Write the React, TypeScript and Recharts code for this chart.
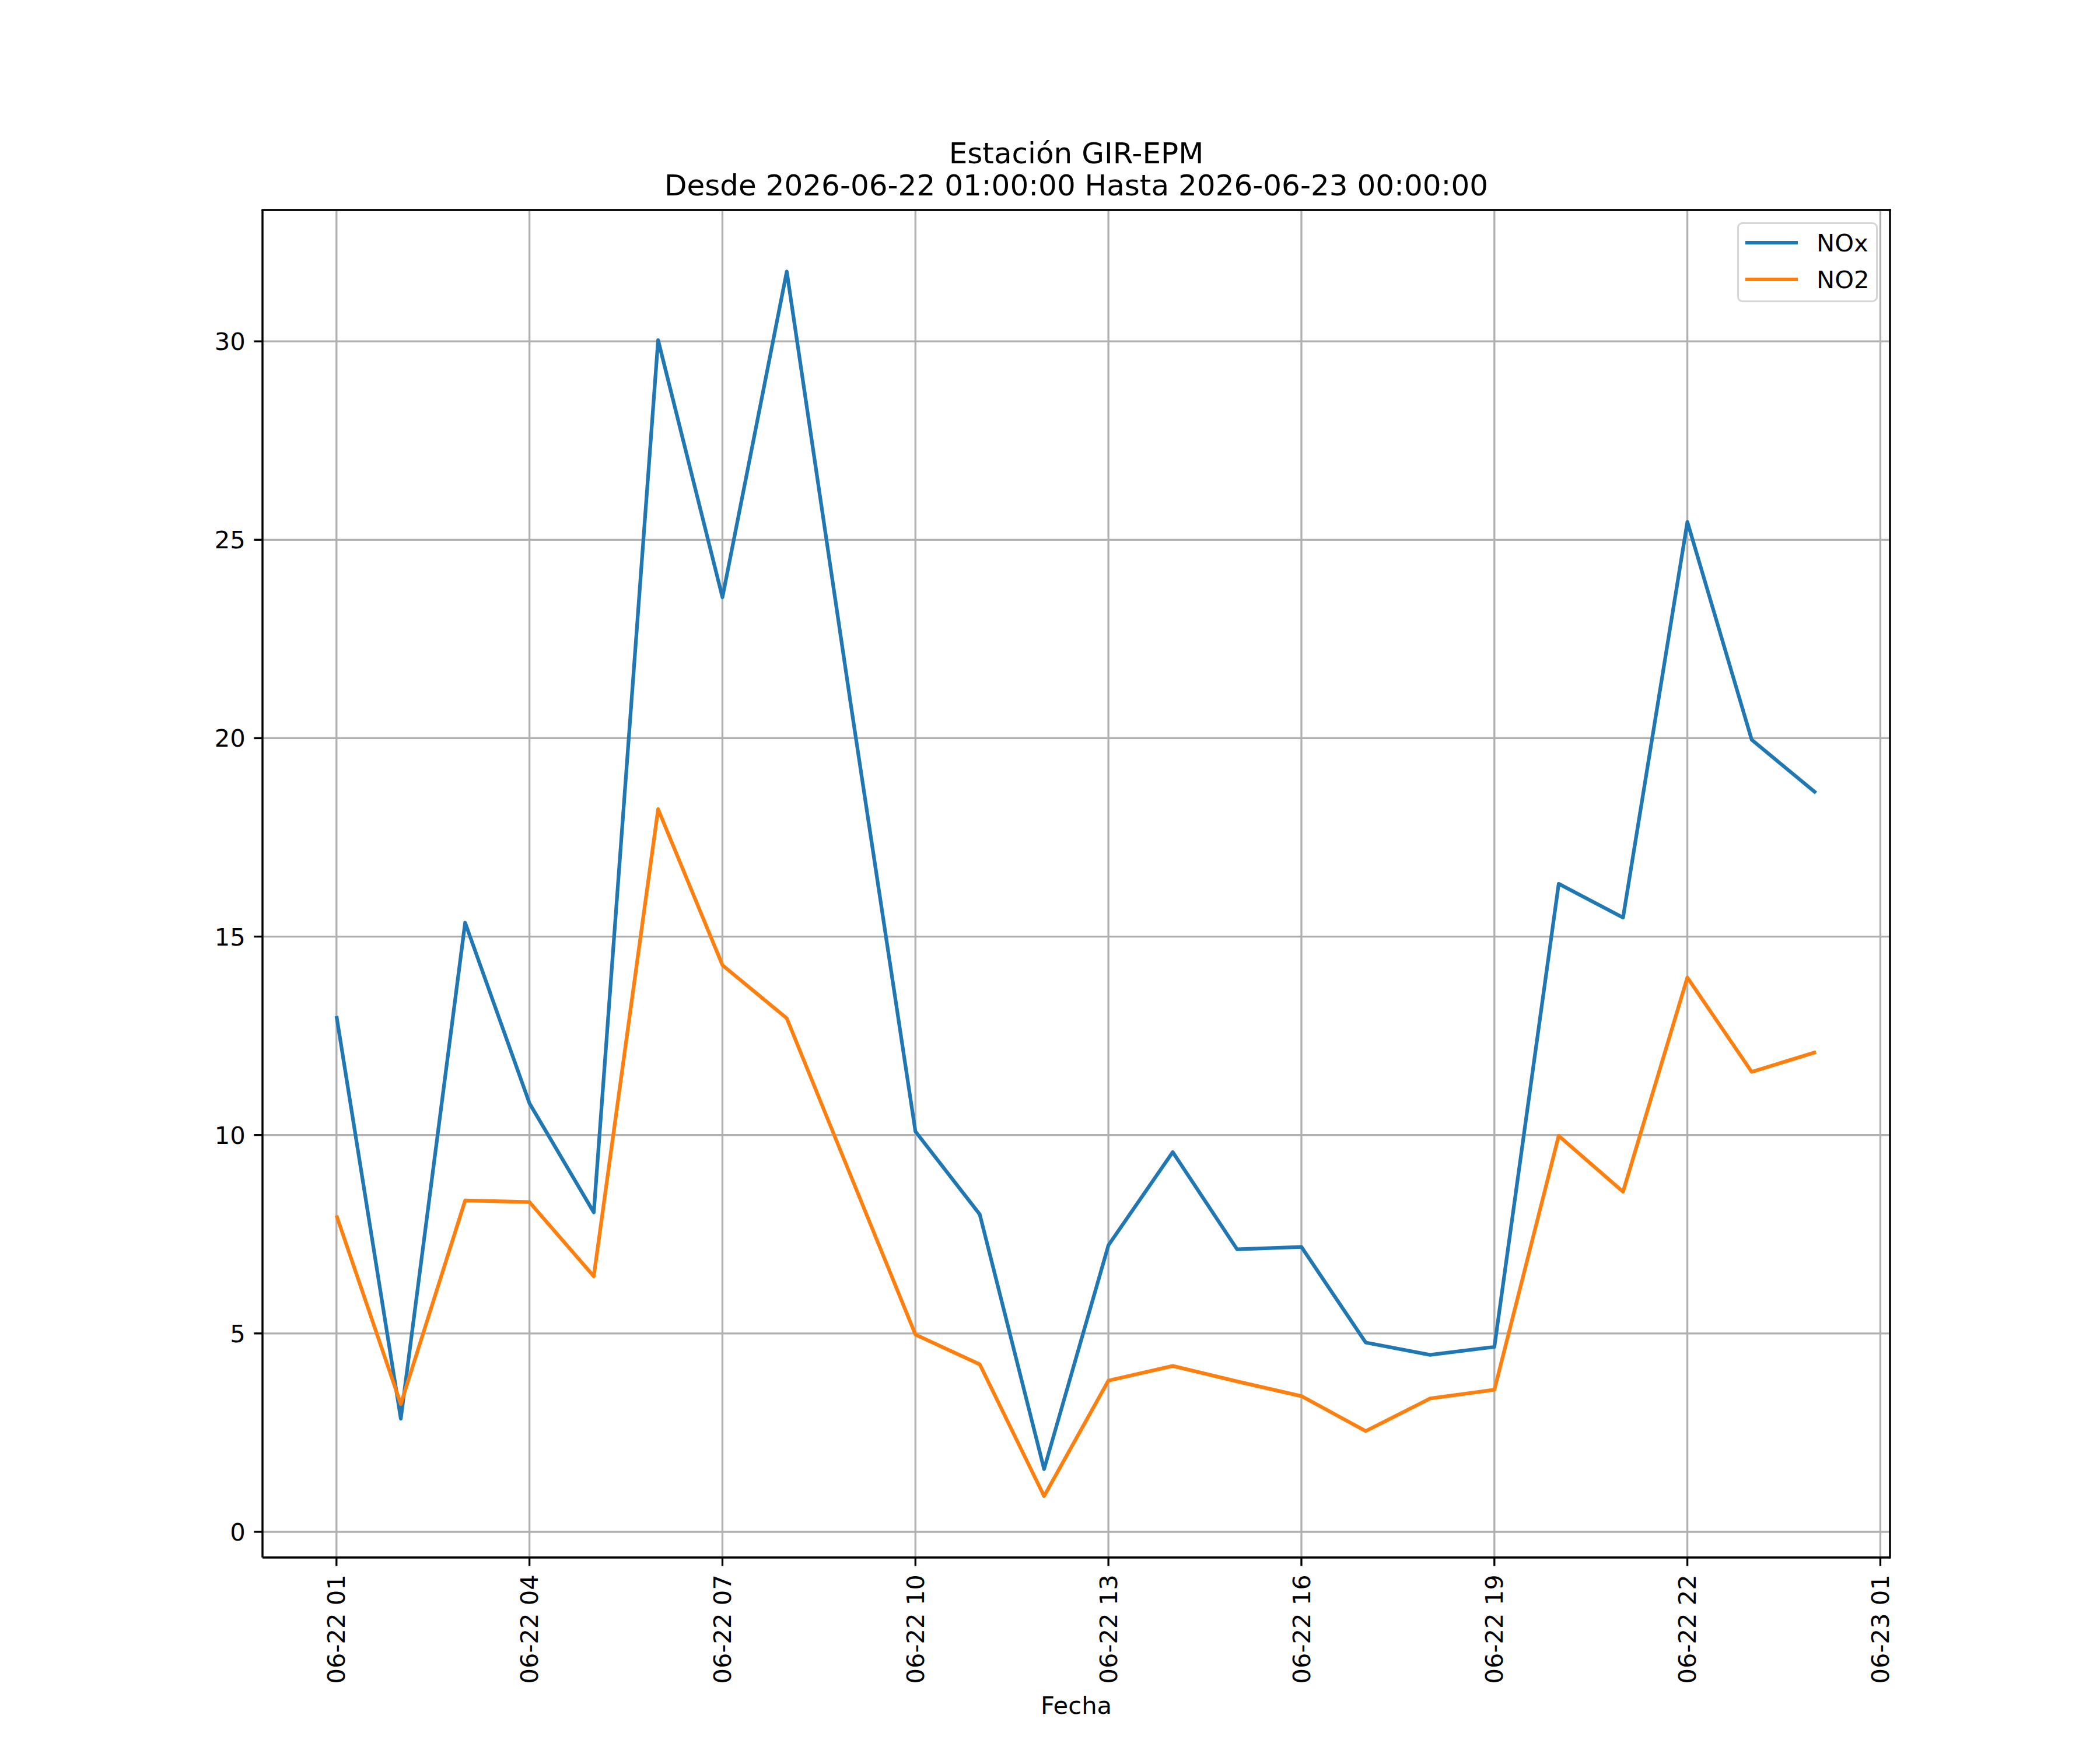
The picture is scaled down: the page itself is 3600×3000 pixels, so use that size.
import React from 'react';
import { LineChart, Line, XAxis, YAxis, CartesianGrid, Legend, ReferenceLine } from 'recharts';

// hours after 2026-06-22 00:00 (1 = 06-22 01:00, 24 = 06-23 00:00)
const hours = [1, 2, 3, 4, 5, 6, 7, 8, 9, 10, 11, 12, 13, 14, 15, 16, 17, 18, 19, 20, 21, 22, 23, 24];

const noxValues = [
  13.0, 2.85, 15.35, 10.8, 8.05, 30.03, 23.55, 31.76, 20.8, 10.09, 8.0, 1.58,
  7.22, 9.57, 7.12, 7.18, 4.77, 4.46, 4.66, 16.33, 15.48, 25.45, 19.96, 18.62,
];

const no2Values = [
  7.97, 3.22, 8.35, 8.31, 6.44, 18.21, 14.28, 12.94, 8.95, 4.97, 4.22, 0.9,
  3.81, 4.18, 3.79, 3.42, 2.54, 3.36, 3.58, 9.98, 8.57, 13.97, 11.59, 12.09,
];

const xTicks = [1, 4, 7, 10, 13, 16, 19, 22, 25];
const xTickLabels = [
  '06-22 01', '06-22 04', '06-22 07', '06-22 10', '06-22 13',
  '06-22 16', '06-22 19', '06-22 22', '06-23 01',
];
const yTicks = [0, 5, 10, 15, 20, 25, 30];

const seriesNames = ['NOx', 'NO2'];
const seriesColors = ['#1f77b4', '#ff7f0e'];

const X_DOMAIN = [-0.15, 25.15];
const Y_DOMAIN = [-0.647, 33.31];

const FONT = '"DejaVu Sans", sans-serif';
const LW = 6.25;
const THIN = 3.33;

const data = hours.map((h, i) => ({ h, nox: noxValues[i], no2: no2Values[i] }));

const XTick = (props: any) => {
  const { x, y, payload } = props;
  const idx = xTicks.indexOf(payload.value);
  return (
    <text
      x={x}
      y={y}
      transform={`rotate(-90 ${x} ${y})`}
      textAnchor="end"
      dy="0.35em"
      fontSize={41.67}
      fontFamily={FONT}
      fill="#000"
    >
      {idx >= 0 ? xTickLabels[idx] : ''}
    </text>
  );
};

const YTick = (props: any) => {
  const { x, y, payload } = props;
  return (
    <text x={x} y={y} textAnchor="end" dy="0.36em" fontSize={41.67} fontFamily={FONT} fill="#000">
      {payload.value}
    </text>
  );
};

const LegendBox = () => (
  <div
    style={{
      position: 'relative',
      width: 241,
      height: 137,
      boxSizing: 'border-box',
      border: `${THIN}px solid #d6d6d6`,
      borderRadius: 9,
      background: 'rgba(255,255,255,0.8)',
      fontFamily: FONT,
      fontSize: 41.67,
    }}
  >
    {seriesNames.map((name, i) => (
      <div
        key={name}
        style={{
          position: 'absolute',
          left: 11,
          top: 32 + i * 63 - 30,
          height: 60,
          display: 'flex',
          alignItems: 'center',
          whiteSpace: 'nowrap',
        }}
      >
        <div style={{ width: 90, height: LW, background: seriesColors[i] }} />
        <span style={{ marginLeft: 32, color: '#000' }}>{name}</span>
      </div>
    ))}
  </div>
);

export default function App() {
  return (
    <div
      style={{
        position: 'absolute',
        left: 0,
        top: 0,
        width: 3600,
        height: 3000,
        background: '#fff',
        fontFamily: FONT,
      }}
    >
      <div
        style={{
          position: 'absolute', left: 450, width: 2790, top: 237.7,
          textAlign: 'center', fontSize: 50, lineHeight: '50px', whiteSpace: 'nowrap',
        }}
      >
        Estación GIR-EPM
      </div>
      <div
        style={{
          position: 'absolute', left: 450, width: 2790, top: 292.7,
          textAlign: 'center', fontSize: 50, lineHeight: '50px', whiteSpace: 'nowrap',
        }}
      >
        Desde 2026-06-22 01:00:00 Hasta 2026-06-23 00:00:00
      </div>

      <LineChart
        width={3600}
        height={3000}
        data={data}
        margin={{ top: 360, right: 360, bottom: 0, left: 0 }}
      >
        <CartesianGrid stroke="#b0b0b0" strokeWidth={THIN} />
        <XAxis
          dataKey="h"
          type="number"
          domain={X_DOMAIN}
          allowDataOverflow
          ticks={xTicks}
          interval={0}
          height={330}
          tickSize={14.6}
          tickMargin={14.6}
          tick={XTick}
          tickLine={{ stroke: '#000', strokeWidth: THIN }}
          axisLine={{ stroke: '#000', strokeWidth: THIN }}
        />
        <YAxis
          type="number"
          domain={Y_DOMAIN}
          allowDataOverflow
          ticks={yTicks}
          interval={0}
          width={450}
          tickSize={14.6}
          tickMargin={14.6}
          tick={YTick}
          tickLine={{ stroke: '#000', strokeWidth: THIN }}
          axisLine={{ stroke: '#000', strokeWidth: THIN }}
        />
        <Legend
          layout="vertical"
          align="center"
          verticalAlign="middle"
          content={<LegendBox />}
          wrapperStyle={{ left: 2978, top: 381, width: 241, height: 137, margin: 0 }}
        />
        <Line
          type="linear"
          dataKey="nox"
          name={seriesNames[0]}
          stroke={seriesColors[0]}
          strokeWidth={LW}
          strokeLinejoin="round"
          dot={false}
          activeDot={false}
          isAnimationActive={false}
        />
        <Line
          type="linear"
          dataKey="no2"
          name={seriesNames[1]}
          stroke={seriesColors[1]}
          strokeWidth={LW}
          strokeLinejoin="round"
          dot={false}
          activeDot={false}
          isAnimationActive={false}
        />
        {/* top and right spines */}
        <ReferenceLine
          y={Y_DOMAIN[1]}
          stroke="#000"
          strokeWidth={THIN}
          strokeLinecap="square"
          ifOverflow="visible"
        />
        <ReferenceLine
          x={X_DOMAIN[1]}
          stroke="#000"
          strokeWidth={THIN}
          strokeLinecap="square"
          ifOverflow="visible"
        />
      </LineChart>

      <div
        style={{
          position: 'absolute', left: 450, width: 2790, top: 2902.7,
          textAlign: 'center', fontSize: 41.67, lineHeight: '41.67px',
        }}
      >
        Fecha
      </div>
    </div>
  );
}
